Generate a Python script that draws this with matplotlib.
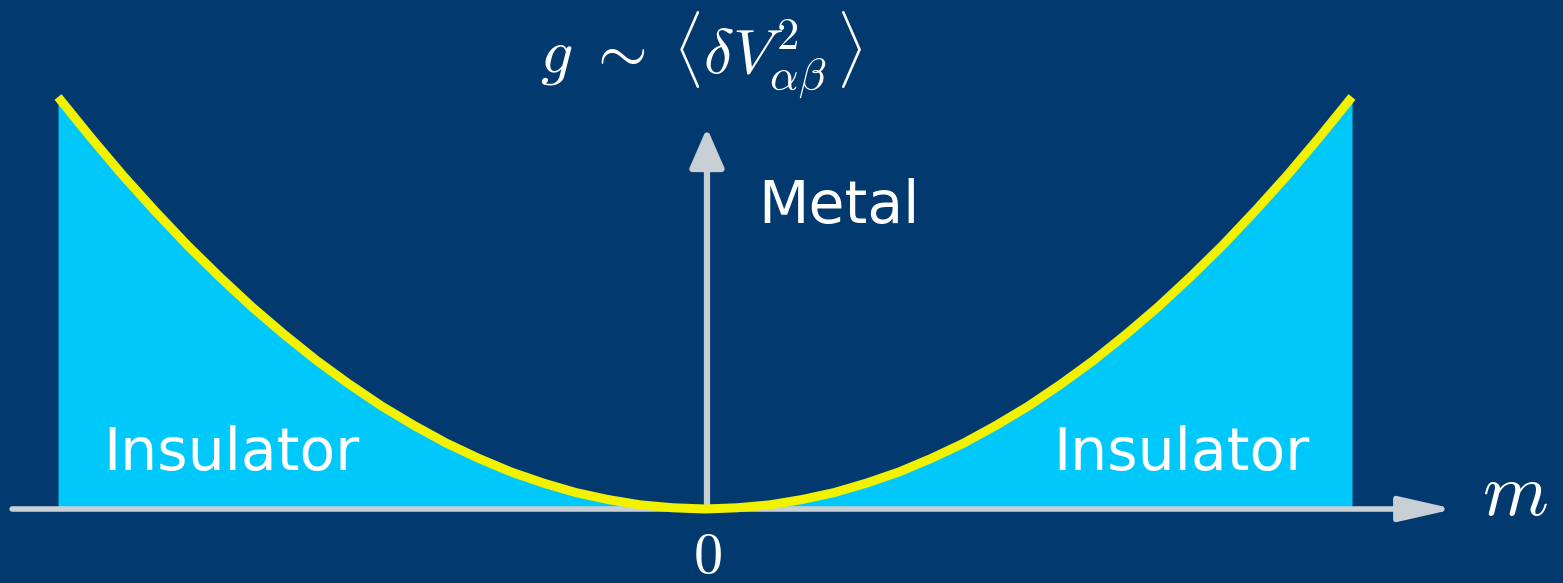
import matplotlib
matplotlib.use("Agg")
import matplotlib.pyplot as plt
import numpy as np

plt.rcParams['mathtext.fontset'] = 'cm'
plt.rcParams['font.family'] = ['DejaVu Sans']

# phase boundary g(m)
m_vals = [-1.0, -0.95, -0.9, -0.85, -0.8, -0.75, -0.7, -0.65, -0.6, -0.55,
          -0.5, -0.45, -0.4, -0.35, -0.3, -0.25, -0.2, -0.15, -0.1, -0.05,
          0.0, 0.05, 0.1, 0.15, 0.2, 0.25, 0.3, 0.35, 0.4, 0.45,
          0.5, 0.55, 0.6, 0.65, 0.7, 0.75, 0.8, 0.85, 0.9, 0.95, 1.0]
g_vals = [1.0, 0.903, 0.81, 0.723, 0.64, 0.563, 0.49, 0.423, 0.36, 0.303,
          0.25, 0.203, 0.16, 0.123, 0.09, 0.063, 0.04, 0.023, 0.01, 0.003,
          0.0, 0.003, 0.01, 0.023, 0.04, 0.063, 0.09, 0.123, 0.16, 0.203,
          0.25, 0.303, 0.36, 0.423, 0.49, 0.563, 0.64, 0.723, 0.81, 0.903, 1.0]

title_label = r'$g\;\sim\;\langle\delta V^{2}_{\alpha\beta}\,\rangle$'
region_labels = ['Insulator', 'Metal', 'Insulator']
region_m = [-0.732, 0.082, 0.737]
region_g = [0.095, 0.694, 0.095]

bg = '#02396e'
cyan = '#00c8fa'
yellow = '#f2f200'
grey = '#c8cfd5'

fig = plt.figure(figsize=(15.63, 5.83), dpi=100)
fig.patch.set_facecolor(bg)
ax = fig.add_axes([0, 0, 1, 1])
ax.set_facecolor(bg)
ax.set_xlim(-1.0897, 1.3261)
ax.set_ylim(-0.1796, 1.2354)
ax.axis('off')

m = np.array(m_vals)
g = np.array(g_vals)
ax.fill_between(m, 0, g, color=cyan, lw=0, zorder=1)

# axes with arrow heads
ax.annotate('', xy=(1.158, 0), xytext=(-1.071, 0),
            arrowprops=dict(arrowstyle='-|>,head_length=3.3,head_width=0.75',
                            mutation_scale=10, color=grey, lw=4,
                            shrinkA=0, shrinkB=0), zorder=2)
ax.annotate('', xy=(0.003, 0.925), xytext=(0.003, 0),
            arrowprops=dict(arrowstyle='-|>,head_length=2.4,head_width=1.05',
                            mutation_scale=10, color=grey, lw=4.5,
                            shrinkA=0, shrinkB=0), zorder=2)

ax.plot(m, g, color=yellow, lw=6.5, solid_capstyle='butt',
        solid_joinstyle='round', zorder=3)

for lab, x, y in zip(region_labels, region_m, region_g):
    ax.text(x, y, lab, color='white', fontsize=42,
            ha='center' if lab == 'Insulator' else 'left', va='baseline', zorder=4)

ax.text(-0.005, 1.057, title_label, color='white', fontsize=46,
        ha='center', va='baseline')
ax.text(0.003, -0.156, r'$0$', color='white', fontsize=42,
        ha='center', va='baseline')
ax.text(1.252, -0.0146, r'$m$', color='white', fontsize=54,
        ha='center', va='baseline')

fig.savefig('out.png', dpi=100, facecolor=bg)
